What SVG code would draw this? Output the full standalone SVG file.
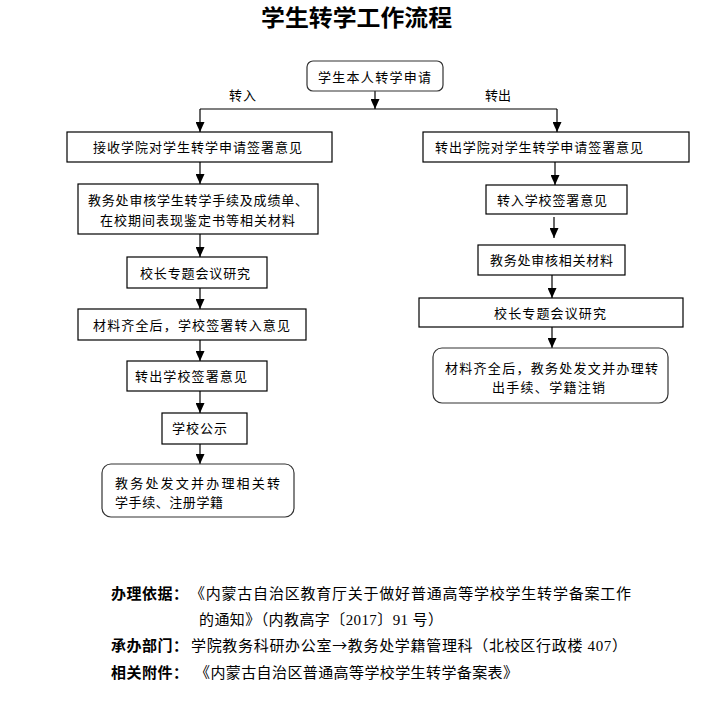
<svg xmlns="http://www.w3.org/2000/svg" width="721" height="708" viewBox="0 0 721 708">
<defs>
<marker id="ah" markerWidth="10" markerHeight="9" refX="10" refY="4.5" orient="auto" markerUnits="userSpaceOnUse" viewBox="0 0 10 9">
<path d="M0,0 L10,4.5 L0,9 Z" fill="#000"/>
</marker>
<style>
.box{fill:#fff;stroke:#000;stroke-width:1.2}
.rbox{fill:#fff;stroke:#333;stroke-width:1.2}
.t{font-family:"Liberation Serif","Noto Sans CJK SC",serif;font-size:13px;fill:#000}
.b{font-family:"Liberation Serif","Noto Sans CJK SC",serif;font-size:15px;fill:#000}
.bb{font-family:"Liberation Serif","Noto Sans CJK SC",serif;font-size:15px;font-weight:bold;fill:#000}
.title{font-family:"Liberation Serif","Noto Sans CJK SC",serif;font-size:23px;font-weight:bold;fill:#000}
.cjk{font-family:"Noto Sans CJK SC",sans-serif}
.c{fill:none;stroke:#000;stroke-width:1.2}
.ca{fill:none;stroke:#000;stroke-width:1.2;marker-end:url(#ah)}
</style>
</defs>
<rect width="721" height="708" fill="#fff"/>
<text class="title" x="261" y="26" textLength="191" lengthAdjust="spacingAndGlyphs">学生转学工作流程</text>

<g id="connectors">
<line class="ca" x1="375" y1="91" x2="375" y2="109"/>
<polyline class="c" points="200,109 557,109"/>
<line class="ca" x1="200" y1="109" x2="200" y2="132"/>
<line class="ca" x1="557" y1="109" x2="557" y2="132"/>
<line class="ca" x1="200" y1="162" x2="200" y2="184"/>
<line class="ca" x1="200" y1="234" x2="200" y2="257"/>
<line class="ca" x1="200" y1="288" x2="200" y2="309"/>
<line class="ca" x1="200" y1="340" x2="200" y2="361"/>
<line class="ca" x1="200" y1="391" x2="200" y2="413"/>
<line class="ca" x1="200" y1="444" x2="200" y2="464"/>
<line class="ca" x1="555" y1="162" x2="555" y2="185"/>
<line class="ca" x1="554" y1="217" x2="554" y2="238"/>
<line class="ca" x1="552" y1="275" x2="552" y2="298"/>
<line class="ca" x1="552" y1="327" x2="552" y2="348"/>
</g>

<g id="labels">
<text class="t" x="229" y="100" textLength="27">转入</text>
<text class="t" x="485" y="100" textLength="26">转出</text>
</g>

<g id="n0">
<rect class="rbox" x="307" y="61" width="136" height="30" rx="6"/>
<text class="t" x="318" y="82" textLength="113">学生本人转学申请</text>
</g>

<g id="l1">
<rect class="box" x="67" y="132" width="265" height="30"/>
<text class="t" x="93" y="152" textLength="209">接收学院对学生转学申请签署意见</text>
</g>
<g id="l2">
<rect class="box" x="78" y="184" width="240" height="50"/>
<text class="t" x="88" y="205" textLength="220">教务处审核学生转学手续及成绩单、</text>
<text class="t" x="100" y="225" textLength="195">在校期间表现鉴定书等相关材料</text>
</g>
<g id="l3">
<rect class="box" x="127" y="257" width="140" height="31"/>
<text class="t" x="140" y="278" textLength="110">校长专题会议研究</text>
</g>
<g id="l4">
<rect class="box" x="78" y="309" width="228" height="31"/>
<text class="t" x="93" y="330" textLength="197">材料齐全后，学校签署转入意见</text>
</g>
<g id="l5">
<rect class="box" x="127" y="361" width="140" height="30"/>
<text class="t" x="135" y="381" textLength="112">转出学校签署意见</text>
</g>
<g id="l6">
<rect class="box" x="162" y="413" width="85" height="31"/>
<text class="t" x="172" y="433" textLength="55">学校公示</text>
</g>
<g id="l7">
<rect class="rbox" x="102" y="464" width="192" height="53" rx="9"/>
<text class="t" x="115" y="488" textLength="165">教务处发文并办理相关转</text>
<text class="t" x="115" y="507" textLength="108">学手续、注册学籍</text>
</g>

<g id="r1">
<rect class="box" x="423" y="132" width="266" height="30"/>
<text class="t" x="435" y="152" textLength="208">转出学院对学生转学申请签署意见</text>
</g>
<g id="r2">
<rect class="box" x="486" y="185" width="141" height="29"/>
<text class="t" x="497" y="205" textLength="110">转入学校签署意见</text>
</g>
<g id="r3">
<rect class="box" x="478" y="245" width="147" height="30"/>
<text class="t" x="490" y="265" textLength="123">教务处审核相关材料</text>
</g>
<g id="r4">
<rect class="box" x="419" y="298" width="264" height="29"/>
<text class="t" x="494" y="318" textLength="112">校长专题会议研究</text>
</g>
<g id="r5">
<rect class="rbox" x="433" y="348" width="235" height="55" rx="9"/>
<text class="t" x="445" y="373" textLength="213">材料齐全后，教务处发文并办理转</text>
<text class="t" x="492" y="392" textLength="113">出手续、学籍注销</text>
</g>

<g id="notes">
<text class="bb" x="111" y="599" textLength="77">办理依据：</text>
<text class="b" x="190" y="599" textLength="441">《内蒙古自治区教育厅关于做好普通高等学校学生转学备案工作</text>
<text class="b" x="199" y="625" textLength="244">的通知》（内教高字〔2017〕91 号）</text>
<text class="bb" x="111" y="651" textLength="77">承办部门：</text>
<text class="b" x="191" y="651" textLength="436">学院教务科研办公室<tspan class="cjk">→</tspan>教务处学籍管理科（北校区行政楼 407）</text>
<text class="bb" x="111" y="678" textLength="77">相关附件：</text>
<text class="b" x="195" y="678" textLength="323">《内蒙古自治区普通高等学校学生转学备案表》</text>
</g>
</svg>
